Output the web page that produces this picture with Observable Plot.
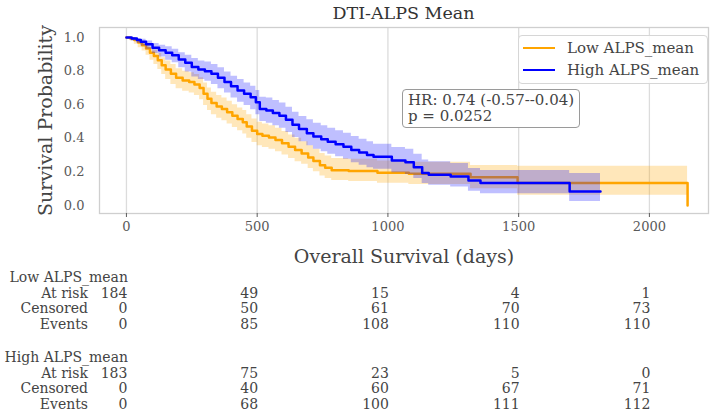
<!DOCTYPE html>
<html>
<head>
<meta charset="utf-8">
<script src="https://cdn.jsdelivr.net/npm/d3@7"></script>
<script src="https://cdn.jsdelivr.net/npm/@observablehq/plot@0.6"></script>
<style>
  html, body { margin: 0; padding: 0; background: white; }
  #wrap { position: relative; width: 720px; height: 414px; font-family: "DejaVu Serif", serif; color: #444; overflow: hidden; }
  #wrap svg { position: absolute; left: 0; top: 0; }
  .abs { position: absolute; white-space: nowrap; }
</style>
</head>
<body>
<div id="wrap"></div>
<script>
// ---- Data ----
const title = "DTI-ALPS Mean";
const xLabel = "Overall Survival (days)";
const yLabel = "Survival Probability";
const groupNames = ["Low ALPS_mean", "High ALPS_mean"];
const groupColors = ["#FFA500", "#0000FF"];
const xTicks = [0, 500, 1000, 1500, 2000];
const yTicks = [0, 0.2, 0.4, 0.6, 0.8, 1.0];
const hrText = ["HR: 0.74 (-0.57--0.04)", "p = 0.0252"];

// Low ALPS_mean Kaplan-Meier steps
const lowT  = [0, 15, 30, 45, 60, 75, 90, 105, 120, 135, 150, 170, 190, 215, 240, 260, 280, 295, 310, 325, 345, 365, 385, 405, 425, 445, 460, 480, 500, 520, 545, 570, 595, 620, 645, 670, 695, 715, 740, 760, 785, 850, 960, 1080, 1316, 1496, 2146];
const lowS  = [1.0, 0.995, 0.985, 0.97, 0.955, 0.935, 0.91, 0.89, 0.865, 0.835, 0.81, 0.785, 0.76, 0.745, 0.735, 0.72, 0.70, 0.665, 0.635, 0.61, 0.59, 0.575, 0.555, 0.535, 0.515, 0.495, 0.47, 0.445, 0.425, 0.415, 0.405, 0.39, 0.37, 0.35, 0.33, 0.31, 0.285, 0.265, 0.24, 0.225, 0.21, 0.205, 0.195, 0.189, 0.168, 0.133, 0.0];
const lowLo = [1.0, 0.98, 0.96, 0.94, 0.92, 0.895, 0.865, 0.84, 0.81, 0.78, 0.75, 0.72, 0.695, 0.68, 0.67, 0.655, 0.63, 0.595, 0.565, 0.54, 0.52, 0.505, 0.485, 0.465, 0.445, 0.425, 0.40, 0.375, 0.355, 0.345, 0.335, 0.32, 0.30, 0.28, 0.26, 0.245, 0.22, 0.20, 0.175, 0.16, 0.148, 0.142, 0.132, 0.125, 0.10, 0.06, 0.06];
const lowHi = [1.0, 1.0, 0.995, 0.985, 0.975, 0.96, 0.94, 0.925, 0.905, 0.88, 0.86, 0.84, 0.815, 0.80, 0.79, 0.78, 0.76, 0.73, 0.70, 0.675, 0.655, 0.64, 0.62, 0.60, 0.58, 0.565, 0.54, 0.515, 0.495, 0.485, 0.475, 0.46, 0.44, 0.42, 0.40, 0.38, 0.355, 0.335, 0.31, 0.295, 0.28, 0.275, 0.265, 0.258, 0.238, 0.234, 0.234];

// High ALPS_mean Kaplan-Meier steps
const highT  = [0, 20, 40, 55, 75, 100, 125, 150, 175, 200, 225, 250, 275, 300, 325, 350, 375, 400, 425, 450, 475, 495, 510, 535, 560, 585, 610, 635, 660, 690, 715, 745, 770, 800, 830, 860, 890, 920, 945, 1015, 1067, 1099, 1131, 1156, 1240, 1308, 1354, 1695, 1813];
const highS  = [1.0, 0.995, 0.985, 0.975, 0.96, 0.94, 0.925, 0.91, 0.895, 0.87, 0.85, 0.825, 0.81, 0.80, 0.785, 0.76, 0.735, 0.71, 0.685, 0.665, 0.645, 0.615, 0.575, 0.565, 0.55, 0.535, 0.51, 0.48, 0.455, 0.43, 0.41, 0.395, 0.38, 0.365, 0.35, 0.33, 0.315, 0.30, 0.29, 0.268, 0.258, 0.228, 0.194, 0.183, 0.173, 0.149, 0.133, 0.083, 0.083];
const highLo = [1.0, 0.98, 0.965, 0.95, 0.93, 0.905, 0.885, 0.865, 0.85, 0.82, 0.795, 0.765, 0.75, 0.74, 0.72, 0.695, 0.67, 0.64, 0.615, 0.595, 0.57, 0.54, 0.50, 0.49, 0.475, 0.46, 0.435, 0.405, 0.38, 0.355, 0.335, 0.32, 0.305, 0.29, 0.275, 0.255, 0.24, 0.225, 0.215, 0.195, 0.185, 0.16, 0.13, 0.12, 0.11, 0.085, 0.07, 0.024, 0.024];
const highHi = [1.0, 1.0, 0.995, 0.99, 0.98, 0.965, 0.955, 0.945, 0.93, 0.91, 0.895, 0.875, 0.86, 0.855, 0.84, 0.82, 0.795, 0.77, 0.75, 0.73, 0.71, 0.685, 0.645, 0.64, 0.625, 0.61, 0.585, 0.555, 0.53, 0.51, 0.49, 0.475, 0.46, 0.445, 0.43, 0.41, 0.395, 0.38, 0.365, 0.345, 0.335, 0.305, 0.27, 0.26, 0.25, 0.22, 0.208, 0.19, 0.19];

// At-risk table
const tableRowNames = ["At risk", "Censored", "Events"];
const lowAtRisk   = [184, 49, 15, 4, 1];
const lowCensored = [0, 50, 61, 70, 73];
const lowEvents   = [0, 85, 108, 110, 110];
const highAtRisk   = [183, 75, 23, 5, 0];
const highCensored = [0, 40, 60, 67, 71];
const highEvents   = [0, 68, 100, 111, 112];

// ---- Build ----
const toRows = (T, S, L, H) => T.map((t, i) => ({t, s: S[i], lo: L[i], hi: H[i]}));
const low = toRows(lowT, lowS, lowLo, lowHi);
const high = toRows(highT, highS, highLo, highHi);

const W = 720, H = 270;
const chart = Plot.plot({
  width: W, height: H,
  marginTop: 27, marginBottom: 57, marginLeft: 99, marginRight: 12,
  style: {fontFamily: "DejaVu Serif", fontSize: "13px", color: "#5a5a5a", background: "white"},
  x: {domain: [-103, 2226]},
  y: {domain: [-0.048, 1.06]},
  marks: [
    Plot.ruleX(xTicks, {stroke: "#dcdcdc", strokeWidth: 1.3}),
    Plot.frame({stroke: "#cfcfcf", strokeWidth: 1.3}),
    Plot.areaY(low, {x: "t", y1: "lo", y2: "hi", curve: "step-after", fill: groupColors[0], fillOpacity: 0.27}),
    Plot.line(low, {x: "t", y: "s", curve: "step-after", stroke: groupColors[0], strokeWidth: 2.5}),
    Plot.areaY(high, {x: "t", y1: "lo", y2: "hi", curve: "step-after", fill: groupColors[1], fillOpacity: 0.25}),
    Plot.line(high, {x: "t", y: "s", curve: "step-after", stroke: groupColors[1], strokeWidth: 2.5}),
    Plot.axisX({ticks: xTicks, tickFormat: "d", tickSize: 4, tickPadding: 4, label: null, fontSize: 13}),
    Plot.axisY({ticks: yTicks, tickFormat: ".1f", tickSize: 0, tickPadding: 15, label: null, fontSize: 13}),
    Plot.text([xLabel], {frameAnchor: "bottom", dy: 43, text: d => d, fontSize: 19, fill: "#444", lineAnchor: "middle"}),
    Plot.text([yLabel], {frameAnchor: "left", dx: -54, rotate: -90, text: d => d, fontSize: 19, fill: "#444", textAnchor: "middle", lineAnchor: "middle"})
  ]
});

const wrap = document.getElementById("wrap");
wrap.appendChild(chart);
const xs = chart.scale("x");

function addText(txt, x, y, opts = {}) {
  const size = opts.size || 14;
  const d = document.createElement("div");
  d.className = "abs";
  d.textContent = txt;
  d.style.fontSize = size + "px";
  d.style.lineHeight = "1";
  d.style.color = opts.color || "#444";
  d.style.top = (y - size / 2) + "px";
  if (opts.align === "right") { d.style.right = (W - x) + "px"; d.style.textAlign = "right"; }
  else if (opts.align === "center") { d.style.left = (x - 200) + "px"; d.style.width = "400px"; d.style.textAlign = "center"; }
  else d.style.left = x + "px";
  wrap.appendChild(d);
  return d;
}

// Title
const plotCenter = (99 + (W - 12)) / 2;
addText(title, plotCenter, 14, {align: "center", size: 17.5, color: "#333"});

// Legend
const leg = document.createElement("div");
leg.className = "abs";
Object.assign(leg.style, {left: "518px", top: "35px", width: "188px", height: "47px", border: "1px solid #d6d6d6", borderRadius: "4px", background: "rgba(255,255,255,0.85)"});
wrap.appendChild(leg);
groupNames.forEach((g, i) => {
  const y = 48 + i * 22;
  const sw = document.createElement("div");
  sw.className = "abs";
  Object.assign(sw.style, {left: "523px", top: (y - 1.25) + "px", width: "32px", height: "2.5px", background: groupColors[i]});
  wrap.appendChild(sw);
  addText(g, 567, y, {size: 15, color: "#444"});
});

// HR annotation box (one text block, two lines)
const hr = document.createElement("div");
hr.className = "abs";
hr.textContent = hrText.join("\n");
Object.assign(hr.style, {left: "402px", top: "89px", width: "171px", height: "33px", padding: "2px 0 2px 5px", whiteSpace: "pre", fontSize: "15px", lineHeight: "16px", color: "#444", border: "1.3px solid #9a9a9a", borderRadius: "4px", background: "white"});
wrap.appendChild(hr);

// At-risk table
const groups = [
  {name: groupNames[0], rows: [lowAtRisk, lowCensored, lowEvents], y0: 277},
  {name: groupNames[1], rows: [highAtRisk, highCensored, highEvents], y0: 357}
];
groups.forEach(g => {
  addText(g.name, 128, g.y0, {align: "right", size: 14});
  g.rows.forEach((vals, r) => {
    const y = g.y0 + (r + 1) * 15.6;
    addText(tableRowNames[r], 88, y, {align: "right", size: 14});
    vals.forEach((v, k) => addText(String(v), xs.apply(xTicks[k]) + 1.5, y, {align: "right", size: 14}));
  });
});
</script>
</body>
</html>
